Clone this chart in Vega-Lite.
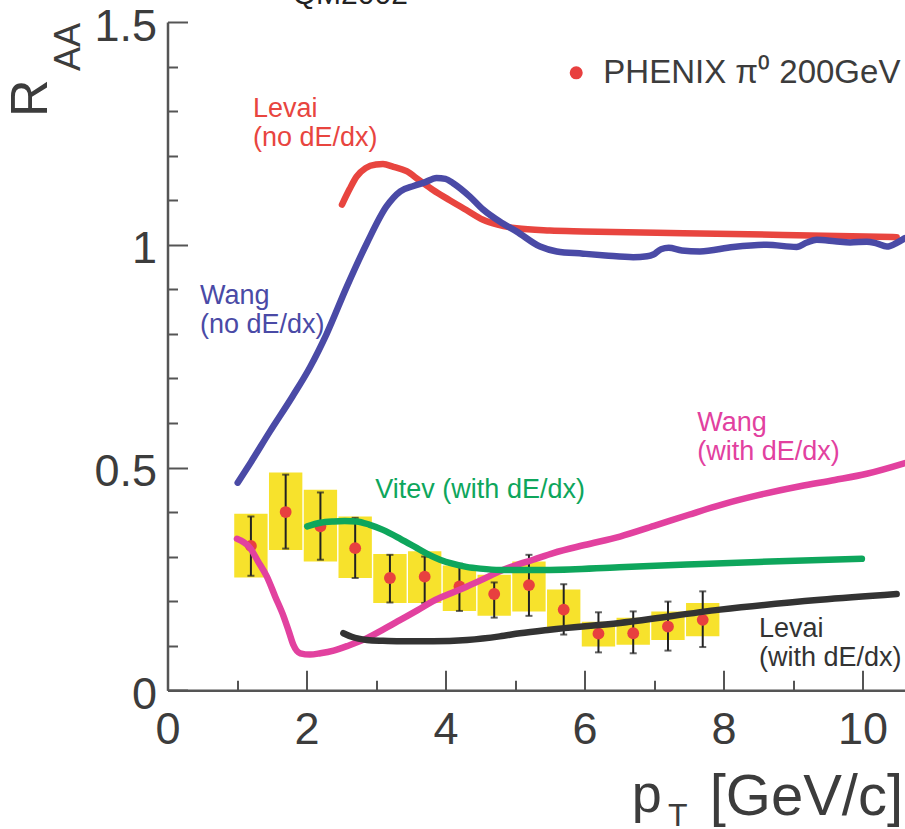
{
  "$schema": "https://vega.github.io/schema/vega-lite/v6.json",
  "width": 737.5,
  "height": 668.25,
  "autosize": "none",
  "padding": {"left": 167.5, "top": 22, "right": 0, "bottom": 138.75},
  "background": "white",
  "config": {"view": {"stroke": null}, "font": "Liberation Sans"},
  "datasets": {
    "phenix": [
      {"pt": 1.2, "raa": 0.324, "stat_lo": 0.257, "stat_hi": 0.39, "sys_lo": 0.253, "sys_hi": 0.396, "bx1": 0.96, "bx2": 1.44},
      {"pt": 1.7, "raa": 0.400, "stat_lo": 0.318, "stat_hi": 0.484, "sys_lo": 0.315, "sys_hi": 0.489, "bx1": 1.46, "bx2": 1.94},
      {"pt": 2.2, "raa": 0.368, "stat_lo": 0.293, "stat_hi": 0.444, "sys_lo": 0.289, "sys_hi": 0.45, "bx1": 1.96, "bx2": 2.44},
      {"pt": 2.7, "raa": 0.319, "stat_lo": 0.252, "stat_hi": 0.387, "sys_lo": 0.252, "sys_hi": 0.39, "bx1": 2.46, "bx2": 2.94},
      {"pt": 3.2, "raa": 0.252, "stat_lo": 0.197, "stat_hi": 0.304, "sys_lo": 0.196, "sys_hi": 0.306, "bx1": 2.96, "bx2": 3.44},
      {"pt": 3.7, "raa": 0.255, "stat_lo": 0.196, "stat_hi": 0.300, "sys_lo": 0.196, "sys_hi": 0.312, "bx1": 3.46, "bx2": 3.94},
      {"pt": 4.2, "raa": 0.233, "stat_lo": 0.178, "stat_hi": 0.284, "sys_lo": 0.178, "sys_hi": 0.28, "bx1": 3.96, "bx2": 4.44},
      {"pt": 4.7, "raa": 0.216, "stat_lo": 0.163, "stat_hi": 0.242, "sys_lo": 0.167, "sys_hi": 0.259, "bx1": 4.46, "bx2": 4.94},
      {"pt": 5.2, "raa": 0.236, "stat_lo": 0.167, "stat_hi": 0.304, "sys_lo": 0.177, "sys_hi": 0.289, "bx1": 4.96, "bx2": 5.44},
      {"pt": 5.7, "raa": 0.181, "stat_lo": 0.125, "stat_hi": 0.238, "sys_lo": 0.14, "sys_hi": 0.226, "bx1": 5.46, "bx2": 5.94},
      {"pt": 6.2, "raa": 0.127, "stat_lo": 0.085, "stat_hi": 0.175, "sys_lo": 0.098, "sys_hi": 0.154, "bx1": 5.96, "bx2": 6.44},
      {"pt": 6.7, "raa": 0.128, "stat_lo": 0.083, "stat_hi": 0.177, "sys_lo": 0.102, "sys_hi": 0.163, "bx1": 6.46, "bx2": 6.94},
      {"pt": 7.2, "raa": 0.143, "stat_lo": 0.089, "stat_hi": 0.199, "sys_lo": 0.113, "sys_hi": 0.177, "bx1": 6.96, "bx2": 7.44},
      {"pt": 7.7, "raa": 0.158, "stat_lo": 0.097, "stat_hi": 0.222, "sys_lo": 0.121, "sys_hi": 0.196, "bx1": 7.46, "bx2": 7.94}
    ],
    "curves": [
      {"model": "Levai no dE/dx", "pt": 2.51, "raa": 1.09},
      {"model": "Levai no dE/dx", "pt": 2.62, "raa": 1.125},
      {"model": "Levai no dE/dx", "pt": 2.72, "raa": 1.153},
      {"model": "Levai no dE/dx", "pt": 2.85, "raa": 1.172},
      {"model": "Levai no dE/dx", "pt": 3.0, "raa": 1.18},
      {"model": "Levai no dE/dx", "pt": 3.1, "raa": 1.181},
      {"model": "Levai no dE/dx", "pt": 3.25, "raa": 1.175},
      {"model": "Levai no dE/dx", "pt": 3.44, "raa": 1.165},
      {"model": "Levai no dE/dx", "pt": 3.62, "raa": 1.145},
      {"model": "Levai no dE/dx", "pt": 3.82, "raa": 1.123},
      {"model": "Levai no dE/dx", "pt": 4.06, "raa": 1.1},
      {"model": "Levai no dE/dx", "pt": 4.3, "raa": 1.078},
      {"model": "Levai no dE/dx", "pt": 4.54, "raa": 1.056},
      {"model": "Levai no dE/dx", "pt": 4.75, "raa": 1.045},
      {"model": "Levai no dE/dx", "pt": 5.02, "raa": 1.037},
      {"model": "Levai no dE/dx", "pt": 5.5, "raa": 1.032},
      {"model": "Levai no dE/dx", "pt": 5.98, "raa": 1.03},
      {"model": "Levai no dE/dx", "pt": 7.42, "raa": 1.026},
      {"model": "Levai no dE/dx", "pt": 8.86, "raa": 1.022},
      {"model": "Levai no dE/dx", "pt": 10.49, "raa": 1.017},
      {"model": "Wang no dE/dx", "pt": 1.01, "raa": 0.466},
      {"model": "Wang no dE/dx", "pt": 1.2, "raa": 0.512},
      {"model": "Wang no dE/dx", "pt": 1.47, "raa": 0.58},
      {"model": "Wang no dE/dx", "pt": 1.8, "raa": 0.66},
      {"model": "Wang no dE/dx", "pt": 2.05, "raa": 0.725},
      {"model": "Wang no dE/dx", "pt": 2.29, "raa": 0.8},
      {"model": "Wang no dE/dx", "pt": 2.58, "raa": 0.906},
      {"model": "Wang no dE/dx", "pt": 2.87, "raa": 1.004},
      {"model": "Wang no dE/dx", "pt": 3.15, "raa": 1.086},
      {"model": "Wang no dE/dx", "pt": 3.35, "raa": 1.12},
      {"model": "Wang no dE/dx", "pt": 3.54, "raa": 1.132},
      {"model": "Wang no dE/dx", "pt": 3.7, "raa": 1.14},
      {"model": "Wang no dE/dx", "pt": 3.87, "raa": 1.15},
      {"model": "Wang no dE/dx", "pt": 4.0, "raa": 1.148},
      {"model": "Wang no dE/dx", "pt": 4.11, "raa": 1.138},
      {"model": "Wang no dE/dx", "pt": 4.35, "raa": 1.108},
      {"model": "Wang no dE/dx", "pt": 4.54, "raa": 1.079},
      {"model": "Wang no dE/dx", "pt": 4.8, "raa": 1.05},
      {"model": "Wang no dE/dx", "pt": 5.02, "raa": 1.03},
      {"model": "Wang no dE/dx", "pt": 5.36, "raa": 0.996},
      {"model": "Wang no dE/dx", "pt": 5.6, "raa": 0.985},
      {"model": "Wang no dE/dx", "pt": 5.98, "raa": 0.98},
      {"model": "Wang no dE/dx", "pt": 6.3, "raa": 0.976},
      {"model": "Wang no dE/dx", "pt": 6.7, "raa": 0.972},
      {"model": "Wang no dE/dx", "pt": 6.9, "raa": 0.974},
      {"model": "Wang no dE/dx", "pt": 6.99, "raa": 0.978},
      {"model": "Wang no dE/dx", "pt": 7.1, "raa": 0.99},
      {"model": "Wang no dE/dx", "pt": 7.21, "raa": 0.993},
      {"model": "Wang no dE/dx", "pt": 7.4, "raa": 0.987},
      {"model": "Wang no dE/dx", "pt": 7.66, "raa": 0.985},
      {"model": "Wang no dE/dx", "pt": 8.14, "raa": 0.995},
      {"model": "Wang no dE/dx", "pt": 8.62, "raa": 1.0},
      {"model": "Wang no dE/dx", "pt": 9.05, "raa": 0.995},
      {"model": "Wang no dE/dx", "pt": 9.2, "raa": 1.005},
      {"model": "Wang no dE/dx", "pt": 9.34, "raa": 1.011},
      {"model": "Wang no dE/dx", "pt": 9.6, "raa": 1.008},
      {"model": "Wang no dE/dx", "pt": 9.82, "raa": 1.005},
      {"model": "Wang no dE/dx", "pt": 10.06, "raa": 1.007},
      {"model": "Wang no dE/dx", "pt": 10.2, "raa": 1.003},
      {"model": "Wang no dE/dx", "pt": 10.35, "raa": 0.996},
      {"model": "Wang no dE/dx", "pt": 10.5, "raa": 1.005},
      {"model": "Wang no dE/dx", "pt": 10.61, "raa": 1.015},
      {"model": "Wang with dE/dx", "pt": 1.0, "raa": 0.34},
      {"model": "Wang with dE/dx", "pt": 1.19, "raa": 0.319},
      {"model": "Wang with dE/dx", "pt": 1.3, "raa": 0.29},
      {"model": "Wang with dE/dx", "pt": 1.43, "raa": 0.255},
      {"model": "Wang with dE/dx", "pt": 1.55, "raa": 0.21},
      {"model": "Wang with dE/dx", "pt": 1.67, "raa": 0.166},
      {"model": "Wang with dE/dx", "pt": 1.75, "raa": 0.13},
      {"model": "Wang with dE/dx", "pt": 1.81, "raa": 0.102},
      {"model": "Wang with dE/dx", "pt": 1.91, "raa": 0.083},
      {"model": "Wang with dE/dx", "pt": 2.05, "raa": 0.08},
      {"model": "Wang with dE/dx", "pt": 2.2, "raa": 0.083},
      {"model": "Wang with dE/dx", "pt": 2.39, "raa": 0.089},
      {"model": "Wang with dE/dx", "pt": 2.6, "raa": 0.1},
      {"model": "Wang with dE/dx", "pt": 2.87, "raa": 0.117},
      {"model": "Wang with dE/dx", "pt": 3.1, "raa": 0.136},
      {"model": "Wang with dE/dx", "pt": 3.35, "raa": 0.158},
      {"model": "Wang with dE/dx", "pt": 3.6, "raa": 0.18},
      {"model": "Wang with dE/dx", "pt": 3.82, "raa": 0.2},
      {"model": "Wang with dE/dx", "pt": 4.05, "raa": 0.216},
      {"model": "Wang with dE/dx", "pt": 4.31, "raa": 0.233},
      {"model": "Wang with dE/dx", "pt": 4.55, "raa": 0.25},
      {"model": "Wang with dE/dx", "pt": 4.78, "raa": 0.267},
      {"model": "Wang with dE/dx", "pt": 5.0, "raa": 0.28},
      {"model": "Wang with dE/dx", "pt": 5.26, "raa": 0.293},
      {"model": "Wang with dE/dx", "pt": 5.55, "raa": 0.308},
      {"model": "Wang with dE/dx", "pt": 6.0, "raa": 0.326},
      {"model": "Wang with dE/dx", "pt": 6.51, "raa": 0.345},
      {"model": "Wang with dE/dx", "pt": 7.0, "raa": 0.369},
      {"model": "Wang with dE/dx", "pt": 7.5, "raa": 0.394},
      {"model": "Wang with dE/dx", "pt": 8.0, "raa": 0.418},
      {"model": "Wang with dE/dx", "pt": 8.5, "raa": 0.438},
      {"model": "Wang with dE/dx", "pt": 9.1, "raa": 0.458},
      {"model": "Wang with dE/dx", "pt": 9.6, "raa": 0.472},
      {"model": "Wang with dE/dx", "pt": 10.06, "raa": 0.486},
      {"model": "Wang with dE/dx", "pt": 10.61, "raa": 0.51},
      {"model": "Vitev with dE/dx", "pt": 2.01, "raa": 0.368},
      {"model": "Vitev with dE/dx", "pt": 2.2, "raa": 0.376},
      {"model": "Vitev with dE/dx", "pt": 2.39, "raa": 0.379},
      {"model": "Vitev with dE/dx", "pt": 2.55, "raa": 0.38},
      {"model": "Vitev with dE/dx", "pt": 2.72, "raa": 0.379},
      {"model": "Vitev with dE/dx", "pt": 2.9, "raa": 0.372},
      {"model": "Vitev with dE/dx", "pt": 3.1, "raa": 0.36},
      {"model": "Vitev with dE/dx", "pt": 3.35, "raa": 0.34},
      {"model": "Vitev with dE/dx", "pt": 3.59, "raa": 0.319},
      {"model": "Vitev with dE/dx", "pt": 3.75, "raa": 0.305},
      {"model": "Vitev with dE/dx", "pt": 3.92, "raa": 0.293},
      {"model": "Vitev with dE/dx", "pt": 4.1, "raa": 0.284},
      {"model": "Vitev with dE/dx", "pt": 4.3, "raa": 0.277},
      {"model": "Vitev with dE/dx", "pt": 4.5, "raa": 0.273},
      {"model": "Vitev with dE/dx", "pt": 4.78, "raa": 0.27},
      {"model": "Vitev with dE/dx", "pt": 5.07, "raa": 0.27},
      {"model": "Vitev with dE/dx", "pt": 5.5, "raa": 0.27},
      {"model": "Vitev with dE/dx", "pt": 6.5, "raa": 0.276},
      {"model": "Vitev with dE/dx", "pt": 7.47, "raa": 0.282},
      {"model": "Vitev with dE/dx", "pt": 8.5, "raa": 0.288},
      {"model": "Vitev with dE/dx", "pt": 9.99, "raa": 0.295},
      {"model": "Levai with dE/dx", "pt": 2.53, "raa": 0.128},
      {"model": "Levai with dE/dx", "pt": 2.65, "raa": 0.12},
      {"model": "Levai with dE/dx", "pt": 2.87, "raa": 0.113},
      {"model": "Levai with dE/dx", "pt": 3.1, "raa": 0.111},
      {"model": "Levai with dE/dx", "pt": 3.35, "raa": 0.11},
      {"model": "Levai with dE/dx", "pt": 3.82, "raa": 0.11},
      {"model": "Levai with dE/dx", "pt": 4.31, "raa": 0.113},
      {"model": "Levai with dE/dx", "pt": 4.78, "raa": 0.121},
      {"model": "Levai with dE/dx", "pt": 5.07, "raa": 0.128},
      {"model": "Levai with dE/dx", "pt": 5.5, "raa": 0.136},
      {"model": "Levai with dE/dx", "pt": 6.51, "raa": 0.151},
      {"model": "Levai with dE/dx", "pt": 7.95, "raa": 0.181},
      {"model": "Levai with dE/dx", "pt": 9.39, "raa": 0.203},
      {"model": "Levai with dE/dx", "pt": 10.49, "raa": 0.216}
    ],
    "labels": [
      {"model": "Levai no dE/dx", "x": 1.23, "y": 1.287, "text": "Levai\n(no dE/dx)"},
      {"model": "Wang no dE/dx", "x": 0.468, "y": 0.868, "text": "Wang\n(no dE/dx)"},
      {"model": "Wang with dE/dx", "x": 7.62, "y": 0.583, "text": "Wang\n(with dE/dx)"},
      {"model": "Vitev with dE/dx", "x": 2.99, "y": 0.431, "text": "Vitev (with dE/dx)"},
      {"model": "Levai with dE/dx", "x": 8.51, "y": 0.12, "text": "Levai\n(with dE/dx)"}
    ]
  },
  "encoding": {
    "x": {"type": "quantitative", "scale": {"domain": [0, 10.61], "nice": false, "zero": false}},
    "y": {"type": "quantitative", "scale": {"domain": [0, 1.5], "nice": false, "zero": false}}
  },
  "layer": [
    {
      "data": {"name": "phenix"},
      "mark": {"type": "rect", "color": "#f7e22c"},
      "encoding": {
        "x": {"field": "bx1", "type": "quantitative",
          "axis": {
            "title": null,
            "values": [0, 0.5, 1, 1.5, 2, 2.5, 3, 3.5, 4, 4.5, 5, 5.5, 6, 6.5, 7, 7.5, 8, 8.5, 9, 9.5, 10, 10.5],
            "format": "~g",
            "labelExpr": "datum.value % 2 === 0 ? datum.label : ''",
            "tickSize": {"condition": {"test": "datum.value % 2 === 0", "value": -20}, "value": -10},
            "tickColor": "#555", "tickWidth": 2,
            "domainColor": "#555", "domainWidth": 2.5,
            "labelFontSize": 45, "labelColor": "#3c3c3c", "labelPadding": 37,
            "labelOverlap": false, "labelFlush": false, "grid": false
          }},
        "x2": {"field": "bx2"},
        "y": {"field": "sys_lo", "type": "quantitative",
          "axis": {
            "title": null,
            "values": [0, 0.1, 0.2, 0.3, 0.4, 0.5, 0.6, 0.7, 0.8, 0.9, 1, 1.1, 1.2, 1.3, 1.4, 1.5],
            "format": "~g",
            "labelExpr": "abs(datum.value * 2 - round(datum.value * 2)) < 0.001 ? datum.label : ''",
            "tickSize": {"condition": {"test": "abs(datum.value * 2 - round(datum.value * 2)) < 0.001", "value": -20}, "value": -10},
            "tickColor": "#555", "tickWidth": 2,
            "domainColor": "#555", "domainWidth": 2.5,
            "labelFontSize": 45, "labelColor": "#3c3c3c", "labelPadding": 31, "labelOffset": 4,
            "labelOverlap": false, "labelFlush": false, "grid": false
          }},
        "y2": {"field": "sys_hi"}
      }
    },
    {
      "mark": {"type": "rule", "color": "#555", "strokeWidth": 2},
      "encoding": {"y": {"datum": 1.5}}
    },
    {
      "data": {"name": "phenix"},
      "mark": {"type": "rule", "color": "#222", "strokeWidth": 2},
      "encoding": {"x": {"field": "pt"}, "y": {"field": "stat_lo"}, "y2": {"field": "stat_hi"}}
    },
    {
      "data": {"name": "phenix"},
      "mark": {"type": "tick", "color": "#222", "orient": "horizontal", "size": 7, "thickness": 2},
      "encoding": {"x": {"field": "pt"}, "y": {"field": "stat_lo"}}
    },
    {
      "data": {"name": "phenix"},
      "mark": {"type": "tick", "color": "#222", "orient": "horizontal", "size": 7, "thickness": 2},
      "encoding": {"x": {"field": "pt"}, "y": {"field": "stat_hi"}}
    },
    {
      "data": {"name": "phenix"},
      "mark": {"type": "point", "filled": true, "shape": "circle", "size": 140, "color": "#e8403f", "opacity": 1},
      "encoding": {"x": {"field": "pt"}, "y": {"field": "raa"}}
    },
    {
      "data": {"name": "curves"},
      "mark": {"type": "line", "strokeWidth": 6.5, "strokeCap": "round", "strokeJoin": "round", "interpolate": "monotone"},
      "encoding": {
        "x": {"field": "pt"},
        "y": {"field": "raa"},
        "detail": {"field": "model"},
        "color": {"field": "model", "type": "nominal", "legend": null,
          "scale": {"domain": ["Levai no dE/dx", "Wang no dE/dx", "Wang with dE/dx", "Vitev with dE/dx", "Levai with dE/dx"],
                    "range": ["#e8453f", "#4a4aa6", "#e2419f", "#0ea65c", "#333333"]}}
      }
    },
    {
      "data": {"name": "labels"},
      "mark": {"type": "text", "fontSize": 27, "align": "left", "baseline": "alphabetic", "lineBreak": "\n", "lineHeight": 29},
      "encoding": {
        "x": {"field": "x"},
        "y": {"field": "y"},
        "text": {"field": "text"},
        "color": {"field": "model", "type": "nominal", "legend": null,
          "scale": {"domain": ["Levai no dE/dx", "Wang no dE/dx", "Wang with dE/dx", "Vitev with dE/dx", "Levai with dE/dx"],
                    "range": ["#e44a48", "#4f4fa8", "#e04aa2", "#19a46c", "#3a3a3a"]}}
      }
    },
    {
      "data": {"values": [{"x": 5.88, "y": 1.386}]},
      "mark": {"type": "point", "filled": true, "shape": "circle", "size": 170, "color": "#e8403f", "opacity": 1},
      "encoding": {"x": {"field": "x"}, "y": {"field": "y"}}
    },
    {
      "data": {"values": [{"x": 6.27, "y": 1.3625, "text": "PHENIX π⁰ 200GeV"}]},
      "mark": {"type": "text", "fontSize": 33, "align": "left", "baseline": "alphabetic", "color": "#3c3c3c"},
      "encoding": {"x": {"field": "x"}, "y": {"field": "y"}, "text": {"field": "text"}}
    },
    {
      "data": {"values": [{"x": 2.63, "y": 1.541, "text": "QM2002"}]},
      "mark": {"type": "text", "fontSize": 30, "align": "center", "baseline": "alphabetic", "color": "#222"},
      "encoding": {"x": {"field": "x"}, "y": {"field": "y"}, "text": {"field": "text"}}
    },
    {
      "data": {"values": [{"x": -1.734, "y": 1.287, "text": "R"}]},
      "mark": {"type": "text", "fontSize": 52, "angle": 270, "align": "left", "baseline": "alphabetic", "color": "#3c3c3c"},
      "encoding": {"x": {"field": "x"}, "y": {"field": "y"}, "text": {"field": "text"}}
    },
    {
      "data": {"values": [{"x": -1.26, "y": 1.39, "text": "AA"}]},
      "mark": {"type": "text", "fontSize": 36, "angle": 270, "align": "left", "baseline": "alphabetic", "color": "#3c3c3c"},
      "encoding": {"x": {"field": "x"}, "y": {"field": "y"}, "text": {"field": "text"}}
    },
    {
      "data": {"values": [{"x": 6.68, "y": -0.273, "text": "p"}]},
      "mark": {"type": "text", "fontSize": 54, "align": "left", "baseline": "alphabetic", "color": "#3c3c3c"},
      "encoding": {"x": {"field": "x"}, "y": {"field": "y"}, "text": {"field": "text"}}
    },
    {
      "data": {"values": [{"x": 7.8, "y": -0.2795, "text": "[GeV/c]"}]},
      "mark": {"type": "text", "fontSize": 58, "align": "left", "baseline": "alphabetic", "color": "#3c3c3c"},
      "encoding": {"x": {"field": "x"}, "y": {"field": "y"}, "text": {"field": "text"}}
    },
    {
      "data": {"values": [{"x": 7.2, "y": -0.304, "text": "T"}]},
      "mark": {"type": "text", "fontSize": 32, "align": "left", "baseline": "alphabetic", "color": "#3c3c3c"},
      "encoding": {"x": {"field": "x"}, "y": {"field": "y"}, "text": {"field": "text"}}
    }
  ]
}
